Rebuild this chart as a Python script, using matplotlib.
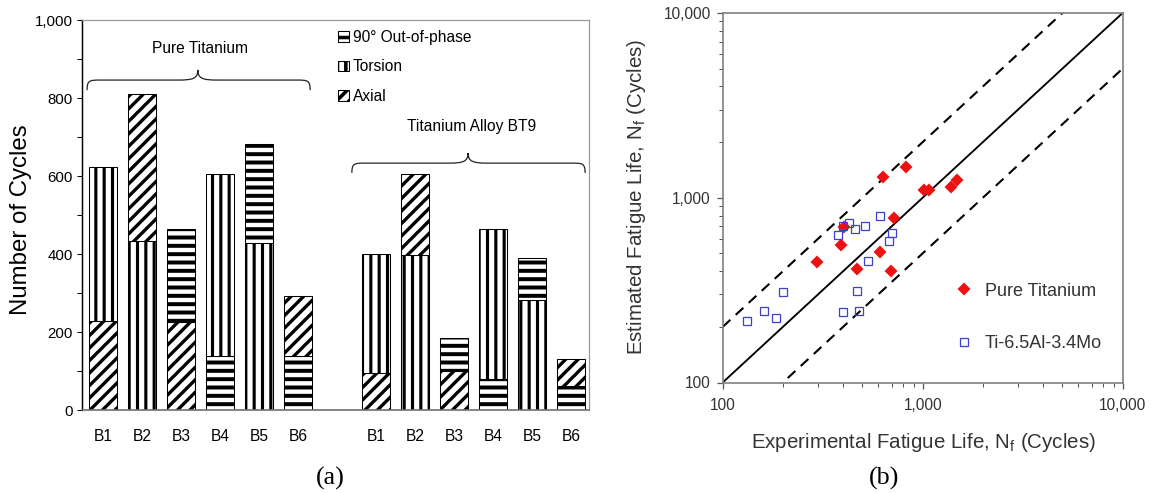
import numpy as np
import matplotlib
matplotlib.use("Agg")
import matplotlib.pyplot as plt
from matplotlib.patches import Patch, PathPatch
from matplotlib.path import Path
from matplotlib.ticker import FuncFormatter, MultipleLocator, LogLocator, NullFormatter

# ------------------------------------------------------------------ data (a)
block_labels = ["B1", "B2", "B3", "B4", "B5", "B6"]
first_load = ["Axial", "Torsion", "Axial", "Out-of-phase", "Torsion", "Out-of-phase"]
second_load = ["Torsion", "Axial", "Out-of-phase", "Torsion", "Out-of-phase", "Axial"]
pure_first_cycles = [228, 434, 226, 138, 429, 139]
pure_second_cycles = [396, 375, 237, 467, 254, 154]
bt9_first_cycles = [96, 397, 100, 79, 282, 62]
bt9_second_cycles = [303, 207, 84, 384, 109, 70]
group_names = ["Pure Titanium", "Titanium Alloy BT9"]
legend_loads = ["Out-of-phase", "Torsion", "Axial"]
legend_texts = ["90\u00b0 Out-of-phase", "Torsion", "Axial"]

# ------------------------------------------------------------------ data (b)
pure_exp = [631, 822, 1016, 1072, 1381, 1478, 719, 406, 391, 295, 467, 612, 692]
pure_est = [1288, 1459, 1100, 1100, 1138, 1247, 776, 697, 556, 450, 411, 508, 403]
alloy_exp = [132, 161, 185, 201, 401, 482, 471, 533, 379, 398, 430, 461, 517, 612, 705, 676]
alloy_est = [216, 244, 224, 308, 242, 243, 311, 452, 632, 703, 726, 679, 705, 800, 644, 585]
band_ratios = [1.0, 2.0, 0.5]

# ------------------------------------------------------------------ setup
DPI = 150
W, H = 1157, 493


def pt(p):
    return p * 72.0 / DPI


plt.rcParams["font.family"] = ["Liberation Sans", "DejaVu Sans"]
plt.rcParams["mathtext.fontset"] = "custom"
plt.rcParams["mathtext.rm"] = "Liberation Sans"
plt.rcParams["mathtext.it"] = "Liberation Sans:italic"
plt.rcParams["hatch.linewidth"] = 1.7
plt.rcParams["hatch.color"] = "black"

HATCH = {"Out-of-phase": "---", "Torsion": "|||", "Axial": "////"}
HATCH_LW = {"Out-of-phase": 1.9, "Torsion": 1.5, "Axial": 1.6}

fig = plt.figure(figsize=(W / DPI, H / DPI), dpi=DPI)
fig.patch.set_facecolor("white")

# ================================================================== (a)
axL = fig.add_axes([82 / W, 1 - 410 / H, 507 / W, 390 / H])
pos_pure = np.arange(len(block_labels))
pos_bt9 = np.arange(len(block_labels)) + len(block_labels) + 1
bw = 0.73


def draw_group(pos, first, second):
    b1 = axL.bar(pos, first, width=bw, color="white", edgecolor="black", linewidth=0.5)
    b2 = axL.bar(pos, second, width=bw, bottom=first, color="white",
                 edgecolor="black", linewidth=0.5)
    for bars, loads in ((b1, first_load), (b2, second_load)):
        for b, ld in zip(bars, loads):
            b.set_hatch(HATCH[ld])
            if hasattr(b, "set_hatch_linewidth"):
                b.set_hatch_linewidth(HATCH_LW[ld])


draw_group(pos_pure, pure_first_cycles, pure_second_cycles)
draw_group(pos_bt9, bt9_first_cycles, bt9_second_cycles)

axL.set_xlim(-0.54, 12.46)
axL.set_ylim(0, 1000)
axL.set_xticks(np.concatenate([pos_pure, pos_bt9]))
axL.set_xticklabels(block_labels + block_labels)
axL.tick_params(axis="x", length=0, pad=pt(19), labelsize=pt(15.5))
axL.yaxis.set_major_locator(MultipleLocator(200))
axL.yaxis.set_minor_locator(MultipleLocator(100))
axL.yaxis.set_major_formatter(FuncFormatter(lambda v, p: f"{v:,.0f}"))
axL.tick_params(axis="y", which="both", direction="out", length=pt(5), width=0.5,
                labelsize=pt(15), pad=pt(4))
axL.spines["left"].set_color("black")
axL.spines["left"].set_linewidth(0.7)
axL.spines["bottom"].set_color("#707070")
axL.spines["bottom"].set_linewidth(0.8)
for s in ("top", "right"):
    axL.spines[s].set_color("#9a9a9a")
    axL.spines[s].set_linewidth(0.6)


def brace(ax, x0, x1, xc, y_end, y_mid, y_tip, r_end, r_mid):
    verts = [
        (x0, y_end), (x0, y_mid), (x0 + 0.2 * r_end, y_mid), (x0 + r_end, y_mid),
        (xc - r_mid, y_mid),
        (xc - 0.25 * r_mid, y_mid), (xc, y_mid + 0.15 * (y_tip - y_mid)), (xc, y_tip),
        (xc, y_mid + 0.15 * (y_tip - y_mid)), (xc + 0.25 * r_mid, y_mid), (xc + r_mid, y_mid),
        (x1 - r_end, y_mid),
        (x1 - 0.2 * r_end, y_mid), (x1, y_mid), (x1, y_end),
    ]
    codes = [Path.MOVETO, Path.CURVE4, Path.CURVE4, Path.CURVE4,
             Path.LINETO,
             Path.CURVE4, Path.CURVE4, Path.CURVE4,
             Path.CURVE4, Path.CURVE4, Path.CURVE4,
             Path.LINETO,
             Path.CURVE4, Path.CURVE4, Path.CURVE4]
    ax.add_patch(PathPatch(Path(verts, codes), facecolor="none", edgecolor="#222222",
                           linewidth=0.6, clip_on=False))


brace(axL, -0.41, 5.31, 2.43, 820, 846, 872, 0.35, 0.5)
brace(axL, 6.38, 12.36, 9.36, 608, 633, 659, 0.35, 0.5)
axL.text(2.49, 928, group_names[0], ha="center", va="center", fontsize=pt(15.5))
axL.text(9.46, 728, group_names[1], ha="center", va="center", fontsize=pt(15.5))

handles = []
for l in legend_loads:
    h = Patch(facecolor="white", edgecolor="black", hatch=HATCH[l], linewidth=0.5)
    handles.append(h)
legL = axL.legend(handles, legend_texts, loc="upper left", bbox_to_anchor=(0.505, 0.975),
                  frameon=False, fontsize=pt(15.5), handlelength=0.7, handleheight=0.7,
                  handletextpad=0.25, labelspacing=0.95, borderpad=0, borderaxespad=0)

fig.text(21 / W, 1 - 220 / H, "Number of Cycles", rotation=90, ha="center", va="center",
         fontsize=pt(24))
fig.text(330 / W, 1 - 478 / H, "(a)", ha="center", va="center", fontsize=pt(26),
         family="Liberation Serif")

# ================================================================== (b)
axR = fig.add_axes([722.7 / W, 1 - 382.5 / H, 400 / W, 369.6 / H])
axR.set_xscale("log")
axR.set_yscale("log")
lim = np.array([100.0, 10000.0])
axR.set_xlim(*lim)
axR.set_ylim(*lim)

for r in band_ratios:
    if r == 1.0:
        axR.plot(lim, r * lim, color="black", linewidth=0.9, solid_capstyle="butt")
    else:
        axR.plot(lim, r * lim, color="black", linewidth=1.0, dashes=(5, 3.5))

axR.plot(pure_exp, pure_est, linestyle="none", marker="D", markersize=pt(7.5),
         markerfacecolor="#ee1111", markeredgecolor="#ee1111", label="Pure Titanium")
axR.plot(alloy_exp, alloy_est, linestyle="none", marker="s", markersize=pt(8.5),
         markerfacecolor="none", markeredgecolor="#3f3fd0", markeredgewidth=0.6,
         label="Ti-6.5Al-3.4Mo")

fmt = FuncFormatter(lambda v, p: f"{v:,.0f}")
for axis in (axR.xaxis, axR.yaxis):
    axis.set_major_locator(LogLocator(base=10, numticks=10))
    axis.set_minor_locator(LogLocator(base=10, subs=np.arange(2, 10), numticks=10))
    axis.set_major_formatter(fmt)
    axis.set_minor_formatter(NullFormatter())
axR.tick_params(which="major", direction="out", length=pt(6), width=0.6, color="#555555",
                labelsize=pt(15.5), labelcolor="#333333")
axR.tick_params(which="minor", direction="out", length=pt(4), width=0.5, color="#555555")
axR.tick_params(axis="x", which="major", pad=pt(9))
axR.tick_params(axis="y", which="major", pad=pt(6))
for s in axR.spines.values():
    s.set_color("#808080")
    s.set_linewidth(0.8)

legR = axR.legend(loc="upper left", bbox_to_anchor=(0.581, 0.27), frameon=False,
                  fontsize=pt(18), numpoints=1, handlelength=1.0, handletextpad=0.65,
                  labelspacing=1.95, borderpad=0, borderaxespad=0)
for t in legR.get_texts():
    t.set_color("#333333")

fig.text(923 / W, 1 - 442 / H, r"Experimental Fatigue Life, N$_{\mathrm{f}}$ (Cycles)",
         ha="center", va="center", fontsize=pt(20.5), color="#333333")
fig.text(636 / W, 1 - 197 / H, r"Estimated Fatigue Life, N$_{\mathrm{f}}$ (Cycles)",
         rotation=90, ha="center", va="center", fontsize=pt(20.5), color="#333333")
fig.text(884 / W, 1 - 478 / H, "(b)", ha="center", va="center", fontsize=pt(26),
         family="Liberation Serif")

fig.savefig("out.png", dpi=DPI, facecolor="white")
